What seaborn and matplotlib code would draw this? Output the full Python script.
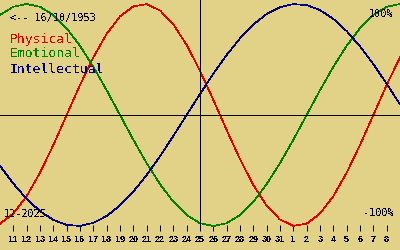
import numpy as np
import pandas as pd
import matplotlib
matplotlib.use("Agg")
import matplotlib.pyplot as plt
import seaborn as sns

# ---- data (one value per day, 10 Dec 2025 .. 9 Jan 2026) ----
day_labels = ['10', '11', '12', '13', '14', '15', '16', '17', '18', '19', '20',
              '21', '22', '23', '24', '25', '26', '27', '28', '29', '30', '31',
              '1', '2', '3', '4', '5', '6', '7', '8', '9']
physical = [-0.979, -0.888, -0.731, -0.520, -0.270, 0.000, 0.270, 0.520, 0.731, 0.888,
            0.979, 0.998, 0.942, 0.817, 0.631, 0.398, 0.136, -0.136, -0.398, -0.631,
            -0.817, -0.942, -0.998, -0.979, -0.888, -0.731, -0.520, -0.270, 0.000,
            0.270, 0.520]
emotional = [0.901, 0.975, 1.000, 0.975, 0.901, 0.782, 0.623, 0.434, 0.223, 0.000,
             -0.223, -0.434, -0.623, -0.782, -0.901, -0.975, -1.000, -0.975, -0.901,
             -0.782, -0.623, -0.434, -0.223, 0.000, 0.223, 0.434, 0.623, 0.782, 0.901,
             0.975, 1.000]
intellectual = [-0.458, -0.618, -0.756, -0.866, -0.945, -0.990, -0.999, -0.972, -0.910,
                -0.815, -0.690, -0.541, -0.372, -0.189, 0.000, 0.189, 0.372, 0.541,
                0.690, 0.815, 0.910, 0.972, 0.999, 0.990, 0.945, 0.866, 0.756, 0.618,
                0.458, 0.282, 0.095]
cycle_names = ['Physical', 'Emotional', 'Intellectual']
cycle_colors = ['#E00000', '#008000', '#000080']
birth_label = '<-- 16/10/1953'
month_label = '12-2025'
top_label = '100%'
bottom_label = '-100%'
today_index = 15

bg = '#E2D287'
W, H = 400, 250

plt.rcParams['text.antialiased'] = False
mono = ['DejaVu Sans Mono']

n = len(day_labels)
df = pd.DataFrame({
    'pos': list(range(n)) * 3,
    'value': physical + emotional + intellectual,
    'cycle': np.repeat(cycle_names, n),
})

fig = plt.figure(figsize=(W / 100, H / 100), dpi=100, facecolor=bg)
ax = fig.add_axes([0, 19 / H, 1, 231 / H])
ax.set_facecolor(bg)

sns.lineplot(data=df, x='pos', y='value', hue='cycle', hue_order=cycle_names,
             palette=dict(zip(cycle_names, cycle_colors)), legend=False, ax=ax,
             linewidth=0.5, antialiased=False)

ax.axhline(0, color='black', lw=0.72, antialiased=False)
ax.axvline(today_index, color='black', lw=0.72, antialiased=False)

ax.set_xlim(0, n - 1)
ax.set_ylim(-116 / 111, 115 / 111)
for s in ax.spines.values():
    s.set_visible(False)
ax.set_xlabel('')
ax.set_ylabel('')
ax.set_yticks([])
ax.set_xticks(range(1, n - 1))
ax.set_xticklabels(day_labels[1:n - 1], fontfamily=['Liberation Sans'], fontweight='bold')
ax.tick_params(axis='x', direction='in', length=4.3, width=0.72, pad=2.6,
               labelsize=6.5, colors='black')


def px_text(x, y, s, size, color='black', ha='left'):
    fig.text(x / W, 1 - y / H, s, fontsize=size, color=color, ha=ha,
             va='baseline', family=mono)


px_text(10, 21, birth_label, 7.3)
for name, col, yb in zip(cycle_names, cycle_colors, [42.7, 57.3, 72.7]):
    px_text(10, yb, name, 9.4, color=col)
px_text(4, 216.7, month_label, 7.3)
px_text(394, 216, bottom_label, 7.3, ha='right')
px_text(393.5, 16.5, top_label, 7.3, ha='right')

fig.savefig('out.png', dpi=100, facecolor=bg)
